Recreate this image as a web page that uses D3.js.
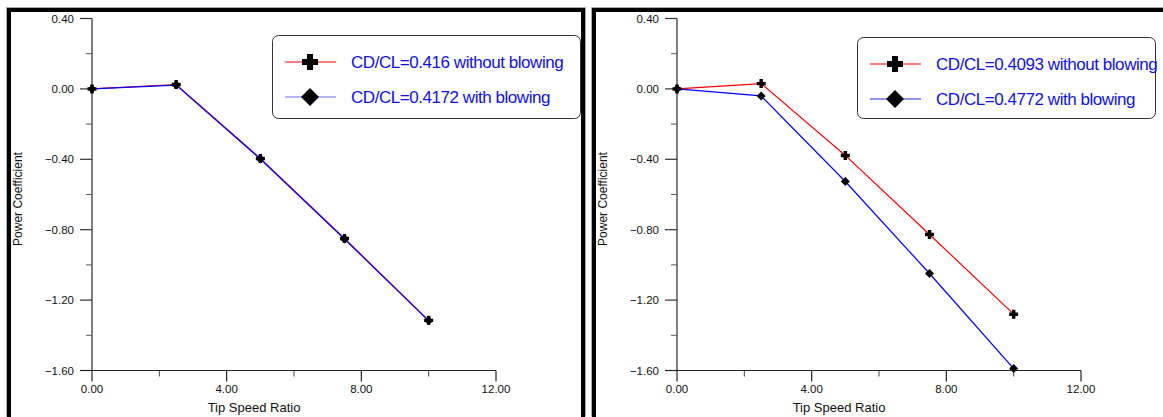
<!DOCTYPE html>
<html>
<head>
<meta charset="utf-8">
<script src="https://cdn.jsdelivr.net/npm/d3@7"></script>
<style>
  body { margin: 0; background: #fff; }
  svg { display: block; font-family: "Liberation Sans", Arial, sans-serif; }
</style>
</head>
<body>
<svg id="chart" width="1163" height="417"></svg>
<script>
// data
const tsr = [0, 2.5, 5, 7.5, 10]
const leftWithout = [0, 0.025, -0.395, -0.85, -1.315]
const leftWith = [0, 0.022, -0.398, -0.853, -1.318]
const rightWithout = [0, 0.03, -0.378, -0.827, -1.28]
const rightWith = [0, -0.04, -0.526, -1.049, -1.589]
const leftLabels = ["CD/CL=0.416 without blowing", "CD/CL=0.4172 with blowing"]
const rightLabels = ["CD/CL=0.4093 without blowing", "CD/CL=0.4772 with blowing"]
const xTicks = [0, 4, 8, 12]
const yTicks = [0.4, 0, -0.4, -0.8, -1.2, -1.6]

const svg = d3.select("#chart")

const panels = [
  { x0: 6, x1: 586, axisX: 92, without: leftWithout, with: leftWith, labels: leftLabels,
    legend: { x: 272, y: 35, w: 308, h: 83 }, blueLegend: "#6b6bff" },
  { x0: 591, x1: 1175, axisX: 677, without: rightWithout, with: rightWith, labels: rightLabels,
    legend: { x: 857, y: 37, w: 298, h: 81 }, blueLegend: "#2222ff" }
]

const plusPath = s => { // plus sign, s = half size, arms t thick
  const t = s * 0.38
  return `M${-t},${-s}H${t}V${-t}H${s}V${t}H${t}V${s}H${-t}V${t}H${-s}V${-t}H${-t}Z`
}
const diamondPath = s => `M0,${-s}L${s},0L0,${s}L${-s},0Z`

panels.forEach(p => {
  const g = svg.append("g")

  // frame
  g.append("rect").attr("x", p.x0 + 0.5).attr("y", 7.5)
    .attr("width", p.x1 - p.x0 - 1).attr("height", 408.5)
    .attr("fill", "none").attr("stroke", "#aaa").attr("stroke-width", 1)
  g.append("rect").attr("x", p.x0 + 3).attr("y", 10)
    .attr("width", p.x1 - p.x0 - 6).attr("height", 430)
    .attr("fill", "#fff").attr("stroke", "#000").attr("stroke-width", 4)

  const x = d3.scaleLinear().domain([0, 12]).range([p.axisX, p.axisX + 404])
  const y = d3.scaleLinear().domain([0.4, -1.6]).range([18.5, 370.5])

  // y axis
  const yAxis = g.append("g").attr("transform", `translate(${p.axisX},0)`)
  yAxis.append("line").attr("y1", y(0.4)).attr("y2", y(-1.6)).attr("stroke", "#555").attr("stroke-width", 1.5)
  yAxis.selectAll(".maj").data(yTicks).join("line")
    .attr("x1", -12).attr("x2", 0).attr("y1", d => y(d)).attr("y2", d => y(d))
    .attr("stroke", "#333").attr("stroke-width", 1.2)
  yAxis.selectAll(".min").data(d3.range(0.2, -1.6, -0.4)).join("line")
    .attr("x1", -6).attr("x2", 0).attr("y1", d => y(d)).attr("y2", d => y(d))
    .attr("stroke", "#555").attr("stroke-width", 1)
  yAxis.selectAll("text").data(yTicks).join("text")
    .attr("x", -18).attr("y", d => y(d)).attr("dy", "0.35em")
    .attr("text-anchor", "end").attr("font-size", 11.5).attr("fill", "#111")
    .text(d => d3.format(".2f")(d))

  // x axis
  const xAxis = g.append("g").attr("transform", `translate(0,${y(-1.6)})`)
  xAxis.append("line").attr("x1", x(0) - 12).attr("x2", x(12)).attr("stroke", "#222").attr("stroke-width", 1.2)
  xAxis.selectAll(".maj").data(xTicks).join("line")
    .attr("x1", d => x(d)).attr("x2", d => x(d)).attr("y1", 0).attr("y2", 11)
    .attr("stroke", "#222").attr("stroke-width", 1.2)
  xAxis.selectAll(".min").data([2, 6, 10]).join("line")
    .attr("x1", d => x(d)).attr("x2", d => x(d)).attr("y1", 0).attr("y2", 6)
    .attr("stroke", "#444").attr("stroke-width", 1)
  xAxis.selectAll("text").data(xTicks).join("text")
    .attr("x", d => x(d)).attr("y", 22).attr("text-anchor", "middle")
    .attr("font-size", 11.5).attr("fill", "#111")
    .text(d => d3.format(".2f")(d))

  // axis titles
  g.append("text").attr("x", p.axisX + 162).attr("y", 412)
    .attr("text-anchor", "middle").attr("font-size", 13).attr("fill", "#111")
    .text("Tip Speed Ratio")
  g.append("text").attr("transform", `translate(${p.axisX - 74},${199}) rotate(-90)`)
    .attr("dy", "0.35em").attr("text-anchor", "middle").attr("font-size", 12).attr("fill", "#111")
    .text("Power Coefficient")

  // series
  const line = d3.line().x((d, i) => x(tsr[i])).y(d => y(d))
  g.append("path").datum(p.without).attr("d", line)
    .attr("fill", "none").attr("stroke", "#ff0000").attr("stroke-width", 1.2)
  g.append("path").datum(p.with).attr("d", line)
    .attr("fill", "none").attr("stroke", "#0000ff").attr("stroke-width", 1.2)

  g.selectAll(".plus").data(p.without).join("path")
    .attr("transform", (d, i) => `translate(${x(tsr[i])},${y(d)})`)
    .attr("d", plusPath(4.5)).attr("fill", "#000")
  g.selectAll(".dia").data(p.with).join("path")
    .attr("transform", (d, i) => `translate(${x(tsr[i])},${y(d)})`)
    .attr("d", diamondPath(4.5)).attr("fill", "#000")

  // legend
  const L = p.legend
  const lg = g.append("g").attr("transform", `translate(${L.x},${L.y})`)
  lg.append("rect").attr("x", 0.5).attr("y", 0.5).attr("width", L.w).attr("height", L.h)
    .attr("rx", 6).attr("fill", "#fff").attr("stroke", "#333").attr("stroke-width", 1)
  const rows = [
    { color: "#ff0000", shape: plusPath(8), label: p.labels[0], yy: 27 },
    { color: p.blueLegend, shape: diamondPath(9), label: p.labels[1], yy: 62 }
  ]
  rows.forEach(r => {
    lg.append("line").attr("x1", 13).attr("x2", 64).attr("y1", r.yy).attr("y2", r.yy)
      .attr("stroke", r.color).attr("stroke-width", 1.2)
    lg.append("path").attr("transform", `translate(38,${r.yy})`).attr("d", r.shape).attr("fill", "#000")
    lg.append("text").attr("x", 79).attr("y", r.yy).attr("dy", "0.36em")
      .attr("font-size", 17).attr("fill", "#1010ee").attr("letter-spacing", -0.45)
      .text(r.label)
  })
})
</script>
</body>
</html>
